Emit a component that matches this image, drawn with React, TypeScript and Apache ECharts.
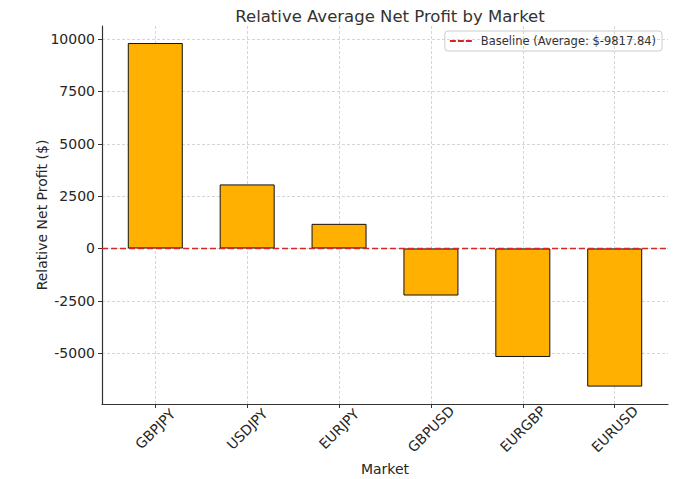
import React, { useEffect, useRef } from "react";
import * as echarts from "echarts";

const categories = ["GBPJPY", "USDJPY", "EURJPY", "GBPUSD", "EURGBP", "EURUSD"];
const relativeProfit = [9813, 3059, 1176, -2247, -5182, -6597];
const yTicks = [-5000, -2500, 0, 2500, 5000, 7500, 10000];
const baselineLabel = "Baseline (Average: $-9817.84)";
const baselineValue = 0;

const FONT = "DejaVu Sans";

export default function App() {
  const ref = useRef<HTMLDivElement>(null);

  useEffect(() => {
    if (!ref.current) return;
    document.body.style.margin = "0";
    const chart = echarts.init(ref.current, undefined, { renderer: "svg" });
    const catIdx = categories.map((_, i) => i);
    const xMin = -0.58;
    const xMax = categories.length - 1 + 0.58;
    chart.setOption({
      animation: false,
      backgroundColor: "#ffffff",
      textStyle: { fontFamily: FONT },
      title: {
        text: "Relative Average Net Profit by Market",
        left: 385,
        top: 3,
        textAlign: "center",
        textStyle: { fontFamily: FONT, fontSize: 16.5, fontWeight: "normal", color: "#333333" },
      },
      legend: {
        right: 18,
        top: 31,
        orient: "vertical",
        padding: [4, 6, 4, 5],
        borderColor: "#cccccc",
        borderWidth: 1,
        borderRadius: 3,
        itemWidth: 22,
        itemHeight: 3,
        itemGap: 4,
        textStyle: { fontFamily: FONT, fontSize: 11.5, color: "#333333", padding: [0, 0, 0, 4] },
        data: [
          {
            name: baselineLabel,
            icon: "path://M0,0h6v2h-6zM8,0h6v2h-6zM16,0h6v2h-6z",
            itemStyle: { color: "#d62728" },
          },
        ],
      },
      grid: { left: 102, right: 12, top: 26, bottom: 75, outerBoundsMode: "none" },
      xAxis: {
        type: "value",
        min: xMin,
        max: xMax,
        name: "Market",
        nameLocation: "middle",
        nameGap: 58,
        nameMoveOverlap: false,
        nameTextStyle: { fontFamily: FONT, fontSize: 14, color: "#262626" },
        axisLine: { show: true, onZero: false, lineStyle: { color: "#333333", width: 1.2 } },
        axisTick: { show: true, customValues: catIdx, length: 4, lineStyle: { color: "#333333" } },
        axisLabel: {
          customValues: catIdx,
          rotate: 45,
          align: "center",
          verticalAlign: "middle",
          margin: 25,
          fontFamily: FONT,
          fontSize: 14,
          color: "#262626",
          formatter: (v: number) => categories[Math.round(v)] ?? "",
        },
        splitLine: { show: true, lineStyle: { color: "#cccccc", type: [3, 2], width: 0.8 } },
      },
      yAxis: {
        type: "value",
        min: -7428,
        max: 10626,
        name: "Relative Net Profit ($)",
        nameLocation: "middle",
        nameGap: 53,
        nameMoveOverlap: false,
        nameTextStyle: { fontFamily: FONT, fontSize: 14, color: "#262626" },
        axisLine: { show: true, onZero: false, lineStyle: { color: "#333333", width: 1.2 } },
        axisTick: { show: true, customValues: yTicks, length: 4, lineStyle: { color: "#333333" } },
        axisLabel: {
          customValues: yTicks,
          margin: 7,
          fontFamily: FONT,
          fontSize: 14,
          color: "#262626",
          formatter: (v: number) => String(v),
        },
        splitLine: { show: true, lineStyle: { color: "#cccccc", type: [3, 2], width: 0.8 } },
      },
      series: [
        {
          type: "bar",
          name: "Relative Net Profit",
          barWidth: 55,
          data: relativeProfit.map((v, i) => [i, v]),
          itemStyle: { color: "#FFB000", borderColor: "#111111", borderWidth: 1 },
          z: 2,
        },
        {
          type: "line",
          name: baselineLabel,
          data: [
            [xMin, baselineValue],
            [xMax, baselineValue],
          ],
          symbol: "none",
          lineStyle: { color: "#d62728", type: [6, 3], width: 1.6 },
          itemStyle: { color: "#d62728" },
          z: 3,
        },
      ],
    });
    return () => chart.dispose();
  }, []);

  return <div ref={ref} style={{ width: 680, height: 479 }} />;
}
